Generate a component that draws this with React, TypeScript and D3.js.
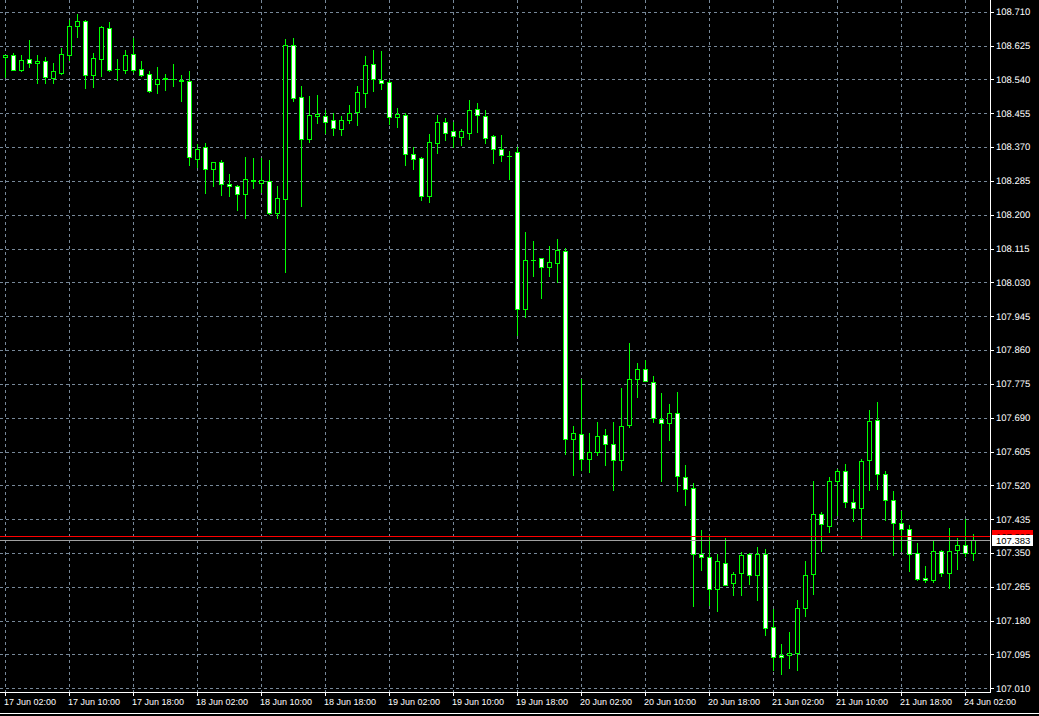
import React from "react";
import * as d3 from "d3";

const opens = [108.596,108.601,108.565,108.591,108.581,108.586,108.543,108.556,108.602,108.675,108.686,108.551,108.592,108.669,108.566,108.565,108.603,108.566,108.553,108.529,108.540,108.540,108.539,108.536,108.341,108.370,108.315,108.332,108.277,108.273,108.253,108.288,108.281,108.285,108.205,108.239,108.626,108.495,108.390,108.447,108.448,108.438,108.416,108.437,108.457,108.507,108.578,108.539,108.533,108.445,108.450,108.352,108.342,108.246,108.381,108.433,108.410,108.396,108.406,108.465,108.448,108.397,108.365,108.348,108.357,107.963,108.086,108.091,108.068,108.080,108.109,107.636,107.649,107.586,107.603,107.646,107.624,107.584,107.671,107.787,107.812,107.780,107.687,107.677,107.702,107.541,107.513,107.348,107.340,107.260,107.325,107.274,107.299,107.348,107.295,107.347,107.165,107.094,107.093,107.098,107.211,107.296,107.448,107.419,107.531,107.556,107.478,107.462,107.583,107.684,107.548,107.483,107.425,107.410,107.350,107.287,107.283,107.355,107.300,107.358,107.369,107.350];
const highs = [108.602,108.607,108.602,108.639,108.602,108.597,108.581,108.620,108.689,108.704,108.689,108.607,108.675,108.684,108.591,108.614,108.643,108.587,108.561,108.572,108.554,108.579,108.551,108.561,108.378,108.380,108.332,108.338,108.303,108.275,108.345,108.343,108.342,108.338,108.271,108.642,108.645,108.524,108.499,108.501,108.463,108.455,108.448,108.476,108.524,108.599,108.614,108.612,108.539,108.468,108.455,108.370,108.346,108.402,108.451,108.443,108.433,108.416,108.489,108.480,108.462,108.401,108.401,108.360,108.371,108.156,108.134,108.092,108.122,108.139,108.116,107.670,107.788,107.652,107.680,107.662,107.679,107.765,107.878,107.827,107.836,107.795,107.752,107.725,107.754,107.572,107.526,107.409,107.396,107.348,107.388,107.302,107.352,107.350,107.365,107.360,107.210,107.122,107.151,107.231,107.329,107.532,107.452,107.541,107.561,107.574,107.512,107.585,107.710,107.729,107.557,107.505,107.456,107.421,107.375,107.318,107.379,107.358,107.413,107.388,107.436,107.399];
const lows = [108.547,108.565,108.561,108.572,108.532,108.530,108.532,108.554,108.589,108.647,108.519,108.520,108.549,108.560,108.539,108.556,108.558,108.549,108.509,108.507,108.514,108.524,108.487,108.325,108.321,108.254,108.271,108.250,108.246,108.211,108.191,108.267,108.256,108.202,108.191,108.057,108.487,108.221,108.384,108.430,108.406,108.401,108.401,108.430,108.426,108.472,108.512,108.516,108.427,108.421,108.325,108.316,108.237,108.233,108.356,108.388,108.370,108.375,108.391,108.408,108.380,108.331,108.334,108.290,107.897,107.944,108.045,107.990,108.047,108.032,107.600,107.547,107.558,107.553,107.597,107.572,107.509,107.559,107.666,107.741,107.781,107.678,107.532,107.635,107.507,107.470,107.218,107.307,107.220,107.205,107.269,107.245,107.245,107.272,107.231,107.143,107.055,107.045,107.060,107.057,107.191,107.248,107.356,107.404,107.446,107.465,107.430,107.387,107.509,107.512,107.434,107.344,107.356,107.304,107.283,107.276,107.276,107.291,107.262,107.311,107.342,107.332];
const closes = [108.601,108.565,108.589,108.581,108.586,108.545,108.561,108.604,108.674,108.686,108.550,108.593,108.671,108.564,108.566,108.601,108.564,108.552,108.512,108.541,108.543,108.540,108.535,108.344,108.365,108.315,108.332,108.277,108.271,108.253,108.289,108.285,108.287,108.205,108.242,108.626,108.493,108.390,108.450,108.452,108.434,108.419,108.438,108.455,108.508,108.576,108.540,108.530,108.445,108.453,108.352,108.341,108.248,108.382,108.433,108.406,108.399,108.410,108.462,108.450,108.394,108.364,108.351,108.348,107.964,108.086,108.086,108.068,108.081,108.111,107.636,107.651,107.586,107.604,107.645,107.624,107.584,107.669,107.787,107.812,107.781,107.689,107.677,107.702,107.543,107.512,107.348,107.340,107.260,107.330,107.269,107.297,107.345,107.295,107.348,107.161,107.089,107.088,107.099,107.212,107.295,107.448,107.423,107.531,107.556,107.477,107.462,107.582,107.682,107.548,107.483,107.425,107.411,107.348,107.285,107.282,107.355,107.300,107.355,107.369,107.350,107.383];

const timeLabels = ["17 Jun 02:00","17 Jun 10:00","17 Jun 18:00","18 Jun 02:00","18 Jun 10:00","18 Jun 18:00","19 Jun 02:00","19 Jun 10:00","19 Jun 18:00","20 Jun 02:00","20 Jun 10:00","20 Jun 18:00","21 Jun 02:00","21 Jun 10:00","21 Jun 18:00","24 Jun 02:00"];
const priceTicks = ["107.010","107.095","107.180","107.265","107.350","107.435","107.520","107.605","107.690","107.775","107.860","107.945","108.030","108.115","108.200","108.285","108.370","108.455","108.540","108.625","108.710"];
const askPrice = 107.393;
const bidPrice = 107.383;

const W = 1039, H = 716;
const AXIS_X = 990, AXIS_Y = 692;
const GREEN = "#00ff00";
const GRID = "#778899";
const FONT = "'Liberation Sans', Arial, sans-serif";

export default function App() {
  const n = opens.length;
  const x = d3.scaleLinear().domain([0, 1]).range([5, 13]);
  const y = d3.scaleLinear().domain([107.01, 108.71]).range([688.3, 11.8]);
  const px = (v: number) => Math.round(y(v));

  const candles = d3.range(n).map((i) => {
    const cx = Math.round(x(i));
    const o = opens[i], c = closes[i];
    const top = px(Math.max(o, c));
    const bot = px(Math.min(o, c));
    const bull = c > o;
    return (
      <g key={i}>
        <line x1={cx + 0.5} x2={cx + 0.5} y1={px(highs[i])} y2={px(lows[i]) + 1} stroke={GREEN} strokeWidth={1} />
        {bot - top < 1 ? (
          <line x1={cx - 2} x2={cx + 3} y1={top + 0.5} y2={top + 0.5} stroke={GREEN} strokeWidth={1} />
        ) : (
          <rect x={cx - 1.5} y={top + 0.5} width={4} height={bot - top} fill={bull ? "#000" : "#fff"} stroke={GREEN} strokeWidth={1} />
        )}
      </g>
    );
  });

  return (
    <svg width={W} height={H} style={{ position: "absolute", left: 0, top: 0, background: "#000" }} shapeRendering="crispEdges">
      <rect x={0} y={0} width={W} height={H} fill="#000" />
      {priceTicks.map((t) => {
        const yy = px(+t) + 0.5;
        return (
          <g key={"h" + t}>
            <line x1={0} x2={AXIS_X} y1={yy} y2={yy} stroke={GRID} strokeDasharray="3,3" />
            <line x1={AXIS_X} x2={AXIS_X + 4} y1={yy} y2={yy} stroke="#fff" />
          </g>
        );
      })}
      {timeLabels.map((t, k) => {
        const xx = Math.round(x(k * 8)) + 0.5;
        return (
          <g key={"v" + k}>
            <line x1={xx} x2={xx} y1={0} y2={AXIS_Y} stroke={GRID} strokeDasharray="3,3" />
            <line x1={xx} x2={xx} y1={AXIS_Y} y2={AXIS_Y + 4} stroke="#fff" />
          </g>
        );
      })}
      {candles}
      <line x1={0} x2={AXIS_X} y1={px(askPrice) + 0.5} y2={px(askPrice) + 0.5} stroke="#ff0000" />
      <line x1={0} x2={AXIS_X} y1={px(bidPrice) + 0.5} y2={px(bidPrice) + 0.5} stroke="#a0a0a0" />
      <line x1={AXIS_X + 0.5} x2={AXIS_X + 0.5} y1={0} y2={AXIS_Y} stroke="#fff" />
      <line x1={0} x2={AXIS_X + 1} y1={AXIS_Y + 0.5} y2={AXIS_Y + 0.5} stroke="#fff" />
      <line x1={0} x2={W} y1={713.5} y2={713.5} stroke="#fff" />
      <g fontFamily={FONT} fontSize={9.5} fill="#fff" style={{ textRendering: "geometricPrecision" } as any}>
        {priceTicks.map((t) => (
          <text key={"t" + t} x={996} y={y(+t)} dy="0.35em" shapeRendering="auto">{t}</text>
        ))}
      </g>
      <g fontFamily={FONT} fontSize={9} fill="#fff">
        {timeLabels.map((t, k) => (
          <text key={"l" + k} x={Math.round(x(k * 8)) - 1} y={705}>{t}</text>
        ))}
      </g>
      <rect x={992} y={px(askPrice) - 6} width={41} height={11} fill="#ff0000" />
      <text x={996} y={px(askPrice) + 3.5} fontFamily={FONT} fontSize={9.5} fill="#000">{askPrice.toFixed(3)}</text>
      <rect x={992} y={px(bidPrice) - 5} width={41} height={11} fill="#fff" />
      <text x={996} y={px(bidPrice) + 4} fontFamily={FONT} fontSize={9.5} fill="#000">{bidPrice.toFixed(3)}</text>
    </svg>
  );
}
